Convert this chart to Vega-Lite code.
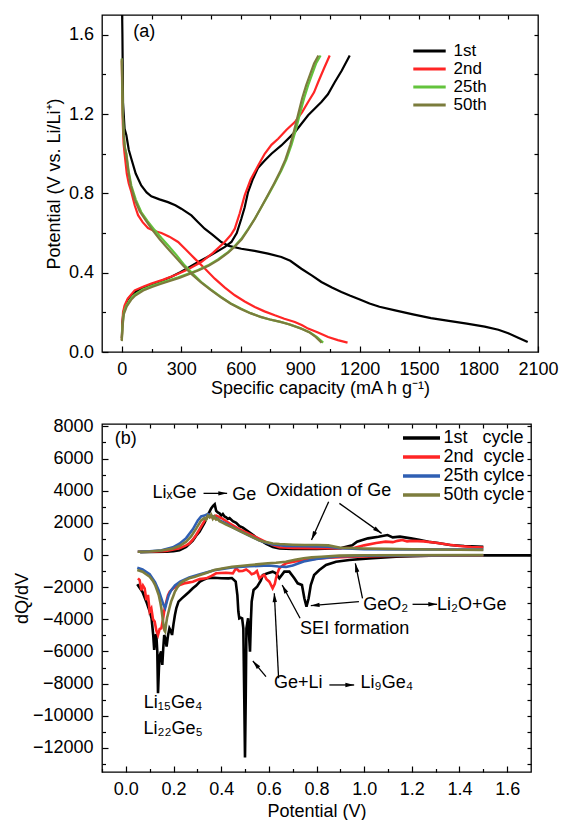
{
"$schema": "https://vega.github.io/schema/vega-lite/v6.json",
"padding": {"left": 12, "top": 13, "right": 0, "bottom": 0},
"spacing": 17,
"config": {
  "font": "Liberation Sans",
  "view": {"stroke": "#000000", "strokeWidth": 1.3},
  "axis": {"grid": false, "domain": false, "labelFont": "Liberation Sans", "labelFontSize": 18, "labelColor": "#000000", "titleFont": "Liberation Sans", "titleFontSize": 18, "titleFontWeight": "normal", "titleColor": "#000000", "tickColor": "#000000", "tickWidth": 1.2, "labelOverlap": false, "labelFlush": false, "labelBound": false},
  "legend": {"labelFont": "Liberation Sans", "labelFontSize": 18, "labelColor": "#000000", "padding": 0},
  "text": {"font": "Liberation Sans", "fontSize": 18, "color": "#000000"}
},
"resolve": {"scale": {"color": "independent", "x": "independent", "y": "independent"}, "legend": {"color": "independent"}},
"datasets": {
  "arrows": [
    {"id": "a1", "P": 0.326, "Q": 3835, "P2": 0.425, "Q2": 3835},
    {"id": "a2", "P": 0.851, "Q": 3317, "P2": 0.779, "Q2": 933},
    {"id": "a3", "P": 0.896, "Q": 3213, "P2": 1.073, "Q2": 1347},
    {"id": "a4", "P": 1.203, "Q": -3068, "P2": 1.306, "Q2": -3068},
    {"id": "a5", "P": 0.978, "Q": -2902, "P2": 0.776, "Q2": -3151},
    {"id": "a6", "P": 0.993, "Q": -2695, "P2": 0.963, "Q2": -518},
    {"id": "a7", "P": 0.731, "Q": -3939, "P2": 0.656, "Q2": -1866},
    {"id": "a8", "P": 0.854, "Q": -8085, "P2": 0.958, "Q2": -8085},
    {"id": "a9", "P": 0.588, "Q": -7567, "P2": 0.533, "Q2": -6592},
    {"id": "a10", "P": 0.641, "Q": -7670, "P2": 0.623, "Q2": -2384}
  ]
},
"vconcat": [
{
  "width": 436, "height": 337,
  "resolve": {"axis": {"x": "independent", "y": "independent"}},
  "layer": [
    {
      "data": {"values": [
        {"c":"1st","b":"d","cap":1,"V":1.75},{"c":"1st","b":"d","cap":3,"V":1.6},{"c":"1st","b":"d","cap":6,"V":1.26},{"c":"1st","b":"d","cap":14,"V":1.126},{"c":"1st","b":"d","cap":23,"V":1.093},{"c":"1st","b":"d","cap":35,"V":1.02},{"c":"1st","b":"d","cap":48,"V":0.975},{"c":"1st","b":"d","cap":70,"V":0.9},{"c":"1st","b":"d","cap":98,"V":0.84},{"c":"1st","b":"d","cap":125,"V":0.805},{"c":"1st","b":"d","cap":149,"V":0.785},{"c":"1st","b":"d","cap":190,"V":0.77},{"c":"1st","b":"d","cap":233,"V":0.756},{"c":"1st","b":"d","cap":270,"V":0.74},{"c":"1st","b":"d","cap":300,"V":0.723},{"c":"1st","b":"d","cap":351,"V":0.689},{"c":"1st","b":"d","cap":385,"V":0.655},{"c":"1st","b":"d","cap":418,"V":0.622},{"c":"1st","b":"d","cap":460,"V":0.59},{"c":"1st","b":"d","cap":502,"V":0.555},{"c":"1st","b":"d","cap":540,"V":0.535},{"c":"1st","b":"d","cap":603,"V":0.521},{"c":"1st","b":"d","cap":670,"V":0.51},{"c":"1st","b":"d","cap":738,"V":0.496},{"c":"1st","b":"d","cap":805,"V":0.479},{"c":"1st","b":"d","cap":850,"V":0.46},{"c":"1st","b":"d","cap":906,"V":0.42},{"c":"1st","b":"d","cap":960,"V":0.385},{"c":"1st","b":"d","cap":1007,"V":0.353},{"c":"1st","b":"d","cap":1060,"V":0.325},{"c":"1st","b":"d","cap":1108,"V":0.303},{"c":"1st","b":"d","cap":1150,"V":0.285},{"c":"1st","b":"d","cap":1201,"V":0.265},{"c":"1st","b":"d","cap":1250,"V":0.245},{"c":"1st","b":"d","cap":1300,"V":0.228},{"c":"1st","b":"d","cap":1379,"V":0.21},{"c":"1st","b":"d","cap":1469,"V":0.19},{"c":"1st","b":"d","cap":1560,"V":0.171},{"c":"1st","b":"d","cap":1650,"V":0.157},{"c":"1st","b":"d","cap":1741,"V":0.143},{"c":"1st","b":"d","cap":1831,"V":0.128},{"c":"1st","b":"d","cap":1900,"V":0.112},{"c":"1st","b":"d","cap":1950,"V":0.095},{"c":"1st","b":"d","cap":2000,"V":0.072},{"c":"1st","b":"d","cap":2048,"V":0.05},
        {"c":"1st","b":"c","cap":0,"V":0.07},{"c":"1st","b":"c","cap":3,"V":0.15},{"c":"1st","b":"c","cap":8,"V":0.2},{"c":"1st","b":"c","cap":15,"V":0.225},{"c":"1st","b":"c","cap":30,"V":0.265},{"c":"1st","b":"c","cap":50,"V":0.29},{"c":"1st","b":"c","cap":80,"V":0.31},{"c":"1st","b":"c","cap":114,"V":0.325},{"c":"1st","b":"c","cap":160,"V":0.345},{"c":"1st","b":"c","cap":205,"V":0.361},{"c":"1st","b":"c","cap":250,"V":0.38},{"c":"1st","b":"c","cap":295,"V":0.403},{"c":"1st","b":"c","cap":340,"V":0.428},{"c":"1st","b":"c","cap":385,"V":0.454},{"c":"1st","b":"c","cap":430,"V":0.478},{"c":"1st","b":"c","cap":476,"V":0.504},{"c":"1st","b":"c","cap":520,"V":0.53},{"c":"1st","b":"c","cap":553,"V":0.555},{"c":"1st","b":"c","cap":580,"V":0.6},{"c":"1st","b":"c","cap":603,"V":0.672},{"c":"1st","b":"c","cap":620,"V":0.73},{"c":"1st","b":"c","cap":637,"V":0.807},{"c":"1st","b":"c","cap":660,"V":0.87},{"c":"1st","b":"c","cap":688,"V":0.93},{"c":"1st","b":"c","cap":720,"V":0.965},{"c":"1st","b":"c","cap":755,"V":1.0},{"c":"1st","b":"c","cap":805,"V":1.042},{"c":"1st","b":"c","cap":873,"V":1.109},{"c":"1st","b":"c","cap":940,"V":1.194},{"c":"1st","b":"c","cap":1007,"V":1.261},{"c":"1st","b":"c","cap":1040,"V":1.3},{"c":"1st","b":"c","cap":1075,"V":1.362},{"c":"1st","b":"c","cap":1110,"V":1.42},{"c":"1st","b":"c","cap":1150,"V":1.496},
        {"c":"2nd","b":"d","cap":0,"V":1.47},{"c":"2nd","b":"d","cap":2,"V":1.3},{"c":"2nd","b":"d","cap":5,"V":1.15},{"c":"2nd","b":"d","cap":9,"V":1.05},{"c":"2nd","b":"d","cap":14,"V":1.0},{"c":"2nd","b":"d","cap":25,"V":0.9},{"c":"2nd","b":"d","cap":35,"V":0.85},{"c":"2nd","b":"d","cap":48,"V":0.807},{"c":"2nd","b":"d","cap":65,"V":0.74},{"c":"2nd","b":"d","cap":82,"V":0.69},{"c":"2nd","b":"d","cap":105,"V":0.655},{"c":"2nd","b":"d","cap":132,"V":0.625},{"c":"2nd","b":"d","cap":165,"V":0.61},{"c":"2nd","b":"d","cap":200,"V":0.6},{"c":"2nd","b":"d","cap":240,"V":0.582},{"c":"2nd","b":"d","cap":284,"V":0.555},{"c":"2nd","b":"d","cap":325,"V":0.515},{"c":"2nd","b":"d","cap":368,"V":0.471},{"c":"2nd","b":"d","cap":420,"V":0.42},{"c":"2nd","b":"d","cap":469,"V":0.37},{"c":"2nd","b":"d","cap":520,"V":0.325},{"c":"2nd","b":"d","cap":570,"V":0.286},{"c":"2nd","b":"d","cap":620,"V":0.255},{"c":"2nd","b":"d","cap":671,"V":0.227},{"c":"2nd","b":"d","cap":720,"V":0.205},{"c":"2nd","b":"d","cap":772,"V":0.185},{"c":"2nd","b":"d","cap":820,"V":0.168},{"c":"2nd","b":"d","cap":873,"V":0.151},{"c":"2nd","b":"d","cap":910,"V":0.135},{"c":"2nd","b":"d","cap":940,"V":0.118},{"c":"2nd","b":"d","cap":990,"V":0.098},{"c":"2nd","b":"d","cap":1041,"V":0.076},{"c":"2nd","b":"d","cap":1090,"V":0.06},{"c":"2nd","b":"d","cap":1139,"V":0.047},
        {"c":"2nd","b":"c","cap":0,"V":0.06},{"c":"2nd","b":"c","cap":2,"V":0.12},{"c":"2nd","b":"c","cap":6,"V":0.2},{"c":"2nd","b":"c","cap":14,"V":0.235},{"c":"2nd","b":"c","cap":30,"V":0.27},{"c":"2nd","b":"c","cap":65,"V":0.311},{"c":"2nd","b":"c","cap":110,"V":0.33},{"c":"2nd","b":"c","cap":149,"V":0.345},{"c":"2nd","b":"c","cap":210,"V":0.365},{"c":"2nd","b":"c","cap":267,"V":0.387},{"c":"2nd","b":"c","cap":330,"V":0.415},{"c":"2nd","b":"c","cap":401,"V":0.454},{"c":"2nd","b":"c","cap":460,"V":0.5},{"c":"2nd","b":"c","cap":519,"V":0.555},{"c":"2nd","b":"c","cap":550,"V":0.59},{"c":"2nd","b":"c","cap":570,"V":0.622},{"c":"2nd","b":"c","cap":595,"V":0.7},{"c":"2nd","b":"c","cap":620,"V":0.79},{"c":"2nd","b":"c","cap":650,"V":0.87},{"c":"2nd","b":"c","cap":688,"V":0.941},{"c":"2nd","b":"c","cap":721,"V":1.0},{"c":"2nd","b":"c","cap":755,"V":1.045},{"c":"2nd","b":"c","cap":789,"V":1.076},{"c":"2nd","b":"c","cap":830,"V":1.12},{"c":"2nd","b":"c","cap":873,"V":1.16},{"c":"2nd","b":"c","cap":910,"V":1.21},{"c":"2nd","b":"c","cap":940,"V":1.261},{"c":"2nd","b":"c","cap":970,"V":1.31},{"c":"2nd","b":"c","cap":991,"V":1.362},{"c":"2nd","b":"c","cap":1020,"V":1.43},{"c":"2nd","b":"c","cap":1049,"V":1.496},
        {"c":"25th","b":"d","cap":0,"V":1.48},{"c":"25th","b":"d","cap":2,"V":1.35},{"c":"25th","b":"d","cap":5,"V":1.2},{"c":"25th","b":"d","cap":10,"V":1.09},{"c":"25th","b":"d","cap":16,"V":1.03},{"c":"25th","b":"d","cap":23,"V":1.0},{"c":"25th","b":"d","cap":35,"V":0.91},{"c":"25th","b":"d","cap":48,"V":0.84},{"c":"25th","b":"d","cap":70,"V":0.77},{"c":"25th","b":"d","cap":98,"V":0.706},{"c":"25th","b":"d","cap":130,"V":0.66},{"c":"25th","b":"d","cap":166,"V":0.615},{"c":"25th","b":"d","cap":200,"V":0.575},{"c":"25th","b":"d","cap":233,"V":0.538},{"c":"25th","b":"d","cap":275,"V":0.49},{"c":"25th","b":"d","cap":317,"V":0.437},{"c":"25th","b":"d","cap":360,"V":0.393},{"c":"25th","b":"d","cap":401,"V":0.353},{"c":"25th","b":"d","cap":450,"V":0.315},{"c":"25th","b":"d","cap":502,"V":0.277},{"c":"25th","b":"d","cap":550,"V":0.245},{"c":"25th","b":"d","cap":603,"V":0.218},{"c":"25th","b":"d","cap":650,"V":0.196},{"c":"25th","b":"d","cap":704,"V":0.176},{"c":"25th","b":"d","cap":750,"V":0.163},{"c":"25th","b":"d","cap":805,"V":0.151},{"c":"25th","b":"d","cap":850,"V":0.138},{"c":"25th","b":"d","cap":906,"V":0.118},{"c":"25th","b":"d","cap":950,"V":0.098},{"c":"25th","b":"d","cap":985,"V":0.075},{"c":"25th","b":"d","cap":1016,"V":0.047},
        {"c":"25th","b":"c","cap":0,"V":0.06},{"c":"25th","b":"c","cap":3,"V":0.13},{"c":"25th","b":"c","cap":10,"V":0.2},{"c":"25th","b":"c","cap":23,"V":0.235},{"c":"25th","b":"c","cap":45,"V":0.268},{"c":"25th","b":"c","cap":65,"V":0.29},{"c":"25th","b":"c","cap":105,"V":0.315},{"c":"25th","b":"c","cap":149,"V":0.333},{"c":"25th","b":"c","cap":190,"V":0.347},{"c":"25th","b":"c","cap":233,"V":0.36},{"c":"25th","b":"c","cap":285,"V":0.377},{"c":"25th","b":"c","cap":334,"V":0.395},{"c":"25th","b":"c","cap":385,"V":0.414},{"c":"25th","b":"c","cap":435,"V":0.437},{"c":"25th","b":"c","cap":485,"V":0.467},{"c":"25th","b":"c","cap":536,"V":0.504},{"c":"25th","b":"c","cap":570,"V":0.535},{"c":"25th","b":"c","cap":603,"V":0.571},{"c":"25th","b":"c","cap":637,"V":0.62},{"c":"25th","b":"c","cap":671,"V":0.672},{"c":"25th","b":"c","cap":704,"V":0.73},{"c":"25th","b":"c","cap":738,"V":0.79},{"c":"25th","b":"c","cap":771,"V":0.85},{"c":"25th","b":"c","cap":805,"V":0.915},{"c":"25th","b":"c","cap":830,"V":0.97},{"c":"25th","b":"c","cap":856,"V":1.045},{"c":"25th","b":"c","cap":878,"V":1.12},{"c":"25th","b":"c","cap":898,"V":1.2},{"c":"25th","b":"c","cap":920,"V":1.28},{"c":"25th","b":"c","cap":940,"V":1.345},{"c":"25th","b":"c","cap":960,"V":1.4},{"c":"25th","b":"c","cap":980,"V":1.455},{"c":"25th","b":"c","cap":1003,"V":1.496},
        {"c":"50th","b":"d","cap":0,"V":1.48},{"c":"50th","b":"d","cap":2,"V":1.35},{"c":"50th","b":"d","cap":5,"V":1.2},{"c":"50th","b":"d","cap":10,"V":1.09},{"c":"50th","b":"d","cap":15,"V":1.03},{"c":"50th","b":"d","cap":22,"V":1.0},{"c":"50th","b":"d","cap":33,"V":0.91},{"c":"50th","b":"d","cap":45,"V":0.84},{"c":"50th","b":"d","cap":65,"V":0.77},{"c":"50th","b":"d","cap":90,"V":0.71},{"c":"50th","b":"d","cap":120,"V":0.665},{"c":"50th","b":"d","cap":155,"V":0.615},{"c":"50th","b":"d","cap":190,"V":0.57},{"c":"50th","b":"d","cap":225,"V":0.53},{"c":"50th","b":"d","cap":265,"V":0.485},{"c":"50th","b":"d","cap":310,"V":0.435},{"c":"50th","b":"d","cap":355,"V":0.39},{"c":"50th","b":"d","cap":398,"V":0.352},{"c":"50th","b":"d","cap":448,"V":0.314},{"c":"50th","b":"d","cap":500,"V":0.276},{"c":"50th","b":"d","cap":548,"V":0.245},{"c":"50th","b":"d","cap":600,"V":0.217},{"c":"50th","b":"d","cap":648,"V":0.196},{"c":"50th","b":"d","cap":700,"V":0.177},{"c":"50th","b":"d","cap":748,"V":0.164},{"c":"50th","b":"d","cap":800,"V":0.152},{"c":"50th","b":"d","cap":846,"V":0.139},{"c":"50th","b":"d","cap":900,"V":0.12},{"c":"50th","b":"d","cap":945,"V":0.1},{"c":"50th","b":"d","cap":978,"V":0.076},{"c":"50th","b":"d","cap":1008,"V":0.047},
        {"c":"50th","b":"c","cap":0,"V":0.055},{"c":"50th","b":"c","cap":3,"V":0.12},{"c":"50th","b":"c","cap":10,"V":0.19},{"c":"50th","b":"c","cap":25,"V":0.23},{"c":"50th","b":"c","cap":47,"V":0.263},{"c":"50th","b":"c","cap":68,"V":0.285},{"c":"50th","b":"c","cap":108,"V":0.31},{"c":"50th","b":"c","cap":152,"V":0.328},{"c":"50th","b":"c","cap":195,"V":0.343},{"c":"50th","b":"c","cap":238,"V":0.357},{"c":"50th","b":"c","cap":290,"V":0.374},{"c":"50th","b":"c","cap":338,"V":0.392},{"c":"50th","b":"c","cap":388,"V":0.412},{"c":"50th","b":"c","cap":438,"V":0.435},{"c":"50th","b":"c","cap":488,"V":0.465},{"c":"50th","b":"c","cap":538,"V":0.502},{"c":"50th","b":"c","cap":572,"V":0.533},{"c":"50th","b":"c","cap":605,"V":0.569},{"c":"50th","b":"c","cap":638,"V":0.618},{"c":"50th","b":"c","cap":670,"V":0.67},{"c":"50th","b":"c","cap":702,"V":0.728},{"c":"50th","b":"c","cap":735,"V":0.788},{"c":"50th","b":"c","cap":767,"V":0.848},{"c":"50th","b":"c","cap":800,"V":0.913},{"c":"50th","b":"c","cap":825,"V":0.97},{"c":"50th","b":"c","cap":850,"V":1.045},{"c":"50th","b":"c","cap":870,"V":1.12},{"c":"50th","b":"c","cap":890,"V":1.2},{"c":"50th","b":"c","cap":910,"V":1.28},{"c":"50th","b":"c","cap":930,"V":1.345},{"c":"50th","b":"c","cap":950,"V":1.4},{"c":"50th","b":"c","cap":970,"V":1.455},{"c":"50th","b":"c","cap":992,"V":1.496}
      ]},
      "mark": {"type": "line", "strokeWidth": 2.2, "clip": true},
      "encoding": {
        "x": {"field": "cap", "type": "quantitative", "scale": {"domain": [-100, 2100], "nice": false, "zero": false},
          "axis": {"orient": "bottom", "values": [0,300,600,900,1200,1500,1800,2100], "format": "d", "tickSize": -6, "labelPadding": 14, "title": "Specific capacity (mA h g⁻¹)", "titlePadding": 1.5}},
        "y": {"field": "V", "type": "quantitative", "scale": {"domain": [0, 1.7], "nice": false, "zero": false},
          "axis": {"orient": "left", "values": [0,0.4,0.8,1.2,1.6], "format": ".1f", "tickSize": -6, "labelPadding": 14.5, "title": "Potential (V vs. Li/Li⁺)", "titlePadding": 5}},
        "color": {"field": "c", "type": "nominal", "scale": {"domain": ["1st","2nd","25th","50th"], "range": ["#000000","#ff2525","#63c33c","#7b7c3c"]},
          "legend": {"orient": "none", "legendX": 319, "legendY": 27.5, "title": null, "symbolType": "M-8.1,0H8.1", "symbolSize": 16, "symbolStrokeWidth": 3, "labelOffset": 15.5, "labelFontSize": 17, "rowPadding": 0}},
        "detail": {"field": "b"}
      }
    },
    {
      "data": {"values": [{"cap": 0, "V": 0}]},
      "mark": {"type": "point", "opacity": 0},
      "encoding": {
        "x": {"field": "cap", "type": "quantitative", "scale": {"domain": [-100, 2100], "nice": false, "zero": false},
          "axis": {"orient": "bottom", "values": [150,450,750,1050,1350,1650,1950], "tickSize": -3.5, "labels": false, "title": null}},
        "y": {"field": "V", "type": "quantitative", "scale": {"domain": [0, 1.7], "nice": false, "zero": false},
          "axis": {"orient": "left", "values": [0.2,0.6,1.0,1.4], "tickSize": -3.5, "labels": false, "title": null}}
      }
    },
    {
      "data": {"values": [{"cap": 0, "V": 0}]},
      "mark": {"type": "point", "opacity": 0},
      "encoding": {
        "x": {"field": "cap", "type": "quantitative", "scale": {"domain": [-100, 2100], "nice": false, "zero": false},
          "axis": {"orient": "top", "values": [0,150,300,450,600,750,900,1050,1200,1350,1500,1650,1800,1950], "tickSize": -4, "labels": false, "title": null}},
        "y": {"field": "V", "type": "quantitative", "scale": {"domain": [0, 1.7], "nice": false, "zero": false},
          "axis": {"orient": "right", "values": [0.2,0.4,0.6,0.8,1.0,1.2,1.4,1.6], "tickSize": -4, "labels": false, "title": null}}
      }
    },
    {
      "data": {"values": [{"cap": 113, "V": 1.589, "t": "(a)"}]},
      "mark": {"type": "text", "align": "center", "baseline": "alphabetic"},
      "encoding": {
        "x": {"field": "cap", "type": "quantitative", "scale": {"domain": [-100, 2100], "nice": false, "zero": false}, "axis": null},
        "y": {"field": "V", "type": "quantitative", "scale": {"domain": [0, 1.7], "nice": false, "zero": false}, "axis": null},
        "text": {"field": "t"}
      }
    }
  ]
},
{
  "width": 429, "height": 348,
  "resolve": {"axis": {"x": "independent", "y": "independent"}},
  "layer": [
    {
      "data": {"values": [
        {"c":"1st","b":"c","P":0.06,"Q":180},{"c":"1st","b":"c","P":0.1,"Q":190},{"c":"1st","b":"c","P":0.169,"Q":200},{"c":"1st","b":"c","P":0.2,"Q":240},{"c":"1st","b":"c","P":0.225,"Q":300},{"c":"1st","b":"c","P":0.253,"Q":500},{"c":"1st","b":"c","P":0.281,"Q":900},{"c":"1st","b":"c","P":0.295,"Q":1200},{"c":"1st","b":"c","P":0.309,"Q":1450},{"c":"1st","b":"c","P":0.33,"Q":2000},{"c":"1st","b":"c","P":0.345,"Q":2500},{"c":"1st","b":"c","P":0.358,"Q":2900},{"c":"1st","b":"c","P":0.366,"Q":3050},{"c":"1st","b":"c","P":0.373,"Q":3150},{"c":"1st","b":"c","P":0.379,"Q":2750},{"c":"1st","b":"c","P":0.386,"Q":2650},{"c":"1st","b":"c","P":0.393,"Q":2600},{"c":"1st","b":"c","P":0.4,"Q":2450},{"c":"1st","b":"c","P":0.407,"Q":2550},{"c":"1st","b":"c","P":0.414,"Q":2400},{"c":"1st","b":"c","P":0.421,"Q":2350},{"c":"1st","b":"c","P":0.428,"Q":2250},{"c":"1st","b":"c","P":0.435,"Q":2300},{"c":"1st","b":"c","P":0.449,"Q":2100},{"c":"1st","b":"c","P":0.463,"Q":2000},{"c":"1st","b":"c","P":0.477,"Q":1800},{"c":"1st","b":"c","P":0.491,"Q":1700},{"c":"1st","b":"c","P":0.505,"Q":1550},{"c":"1st","b":"c","P":0.533,"Q":1250},{"c":"1st","b":"c","P":0.561,"Q":950},{"c":"1st","b":"c","P":0.589,"Q":700},{"c":"1st","b":"c","P":0.617,"Q":500},{"c":"1st","b":"c","P":0.645,"Q":400},{"c":"1st","b":"c","P":0.7,"Q":380},{"c":"1st","b":"c","P":0.8,"Q":380},{"c":"1st","b":"c","P":0.9,"Q":420},{"c":"1st","b":"c","P":0.95,"Q":600},{"c":"1st","b":"c","P":0.97,"Q":829},{"c":"1st","b":"c","P":1.016,"Q":1036},{"c":"1st","b":"c","P":1.06,"Q":1140},{"c":"1st","b":"c","P":1.098,"Q":1244},{"c":"1st","b":"c","P":1.12,"Q":1100},{"c":"1st","b":"c","P":1.15,"Q":1140},{"c":"1st","b":"c","P":1.196,"Q":1036},{"c":"1st","b":"c","P":1.23,"Q":950},{"c":"1st","b":"c","P":1.27,"Q":829},{"c":"1st","b":"c","P":1.31,"Q":750},{"c":"1st","b":"c","P":1.36,"Q":622},{"c":"1st","b":"c","P":1.42,"Q":560},{"c":"1st","b":"c","P":1.5,"Q":518},
        {"c":"1st","b":"d","P":0.048,"Q":-1824},{"c":"1st","b":"d","P":0.07,"Q":-2300},{"c":"1st","b":"d","P":0.086,"Q":-2902},{"c":"1st","b":"d","P":0.1,"Q":-3500},{"c":"1st","b":"d","P":0.108,"Q":-3939},{"c":"1st","b":"d","P":0.115,"Q":-5000},{"c":"1st","b":"d","P":0.119,"Q":-5908},{"c":"1st","b":"d","P":0.124,"Q":-5000},{"c":"1st","b":"d","P":0.128,"Q":-4975},{"c":"1st","b":"d","P":0.132,"Q":-6000},{"c":"1st","b":"d","P":0.135,"Q":-8603},{"c":"1st","b":"d","P":0.139,"Q":-7000},{"c":"1st","b":"d","P":0.143,"Q":-6219},{"c":"1st","b":"d","P":0.148,"Q":-6000},{"c":"1st","b":"d","P":0.153,"Q":-6841},{"c":"1st","b":"d","P":0.157,"Q":-5800},{"c":"1st","b":"d","P":0.161,"Q":-4975},{"c":"1st","b":"d","P":0.166,"Q":-5200},{"c":"1st","b":"d","P":0.171,"Q":-5701},{"c":"1st","b":"d","P":0.177,"Q":-5000},{"c":"1st","b":"d","P":0.183,"Q":-4561},{"c":"1st","b":"d","P":0.188,"Q":-4700},{"c":"1st","b":"d","P":0.194,"Q":-4975},{"c":"1st","b":"d","P":0.2,"Q":-4300},{"c":"1st","b":"d","P":0.206,"Q":-3731},{"c":"1st","b":"d","P":0.212,"Q":-3300},{"c":"1st","b":"d","P":0.221,"Q":-2902},{"c":"1st","b":"d","P":0.235,"Q":-2700},{"c":"1st","b":"d","P":0.251,"Q":-2488},{"c":"1st","b":"d","P":0.265,"Q":-2300},{"c":"1st","b":"d","P":0.281,"Q":-2073},{"c":"1st","b":"d","P":0.295,"Q":-1900},{"c":"1st","b":"d","P":0.311,"Q":-1658},{"c":"1st","b":"d","P":0.325,"Q":-1550},{"c":"1st","b":"d","P":0.341,"Q":-1451},{"c":"1st","b":"d","P":0.37,"Q":-1420},{"c":"1st","b":"d","P":0.4,"Q":-1450},{"c":"1st","b":"d","P":0.431,"Q":-1451},{"c":"1st","b":"d","P":0.445,"Q":-1430},{"c":"1st","b":"d","P":0.461,"Q":-1658},{"c":"1st","b":"d","P":0.468,"Q":-2488},{"c":"1st","b":"d","P":0.472,"Q":-3500},{"c":"1st","b":"d","P":0.476,"Q":-3939},{"c":"1st","b":"d","P":0.482,"Q":-3900},{"c":"1st","b":"d","P":0.488,"Q":-3939},{"c":"1st","b":"d","P":0.493,"Q":-4561},{"c":"1st","b":"d","P":0.497,"Q":-9000},{"c":"1st","b":"d","P":0.5,"Q":-12600},{"c":"1st","b":"d","P":0.503,"Q":-9000},{"c":"1st","b":"d","P":0.506,"Q":-4561},{"c":"1st","b":"d","P":0.513,"Q":-3939},{"c":"1st","b":"d","P":0.517,"Q":-5000},{"c":"1st","b":"d","P":0.521,"Q":-6012},{"c":"1st","b":"d","P":0.525,"Q":-4000},{"c":"1st","b":"d","P":0.528,"Q":-2902},{"c":"1st","b":"d","P":0.536,"Q":-2177},{"c":"1st","b":"d","P":0.551,"Q":-1969},{"c":"1st","b":"d","P":0.566,"Q":-1600},{"c":"1st","b":"d","P":0.575,"Q":-1244},{"c":"1st","b":"d","P":0.595,"Q":-1140},{"c":"1st","b":"d","P":0.616,"Q":-1036},{"c":"1st","b":"d","P":0.63,"Q":-1140},{"c":"1st","b":"d","P":0.644,"Q":-1451},{"c":"1st","b":"d","P":0.665,"Q":-1036},{"c":"1st","b":"d","P":0.686,"Q":-1036},{"c":"1st","b":"d","P":0.707,"Q":-1451},{"c":"1st","b":"d","P":0.721,"Q":-1762},{"c":"1st","b":"d","P":0.739,"Q":-1865},{"c":"1st","b":"d","P":0.749,"Q":-2694},{"c":"1st","b":"d","P":0.758,"Q":-3212},{"c":"1st","b":"d","P":0.767,"Q":-2694},{"c":"1st","b":"d","P":0.776,"Q":-1865},{"c":"1st","b":"d","P":0.79,"Q":-1244},{"c":"1st","b":"d","P":0.812,"Q":-933},{"c":"1st","b":"d","P":0.84,"Q":-622},{"c":"1st","b":"d","P":0.882,"Q":-414},{"c":"1st","b":"d","P":0.938,"Q":-311},{"c":"1st","b":"d","P":1.02,"Q":-207},{"c":"1st","b":"d","P":1.134,"Q":-104},{"c":"1st","b":"d","P":1.273,"Q":-41},{"c":"1st","b":"d","P":1.413,"Q":-25},{"c":"1st","b":"d","P":1.7,"Q":-25},
        {"c":"2nd","b":"c","P":0.05,"Q":200},{"c":"2nd","b":"c","P":0.1,"Q":210},{"c":"2nd","b":"c","P":0.169,"Q":250},{"c":"2nd","b":"c","P":0.225,"Q":415},{"c":"2nd","b":"c","P":0.253,"Q":600},{"c":"2nd","b":"c","P":0.267,"Q":720},{"c":"2nd","b":"c","P":0.281,"Q":950},{"c":"2nd","b":"c","P":0.295,"Q":1244},{"c":"2nd","b":"c","P":0.309,"Q":1600},{"c":"2nd","b":"c","P":0.323,"Q":1950},{"c":"2nd","b":"c","P":0.337,"Q":2280},{"c":"2nd","b":"c","P":0.351,"Q":2490},{"c":"2nd","b":"c","P":0.358,"Q":2350},{"c":"2nd","b":"c","P":0.365,"Q":2400},{"c":"2nd","b":"c","P":0.372,"Q":2300},{"c":"2nd","b":"c","P":0.379,"Q":2450},{"c":"2nd","b":"c","P":0.393,"Q":2350},{"c":"2nd","b":"c","P":0.407,"Q":2250},{"c":"2nd","b":"c","P":0.421,"Q":2100},{"c":"2nd","b":"c","P":0.449,"Q":1850},{"c":"2nd","b":"c","P":0.477,"Q":1600},{"c":"2nd","b":"c","P":0.505,"Q":1400},{"c":"2nd","b":"c","P":0.533,"Q":1200},{"c":"2nd","b":"c","P":0.561,"Q":1000},{"c":"2nd","b":"c","P":0.589,"Q":800},{"c":"2nd","b":"c","P":0.617,"Q":620},{"c":"2nd","b":"c","P":0.645,"Q":480},{"c":"2nd","b":"c","P":0.7,"Q":440},{"c":"2nd","b":"c","P":0.8,"Q":420},{"c":"2nd","b":"c","P":0.9,"Q":420},{"c":"2nd","b":"c","P":0.96,"Q":450},{"c":"2nd","b":"c","P":1.0,"Q":600},{"c":"2nd","b":"c","P":1.05,"Q":750},{"c":"2nd","b":"c","P":1.09,"Q":830},{"c":"2nd","b":"c","P":1.12,"Q":800},{"c":"2nd","b":"c","P":1.14,"Q":880},{"c":"2nd","b":"c","P":1.16,"Q":930},{"c":"2nd","b":"c","P":1.18,"Q":850},{"c":"2nd","b":"c","P":1.2,"Q":880},{"c":"2nd","b":"c","P":1.25,"Q":850},{"c":"2nd","b":"c","P":1.3,"Q":760},{"c":"2nd","b":"c","P":1.35,"Q":650},{"c":"2nd","b":"c","P":1.4,"Q":560},{"c":"2nd","b":"c","P":1.45,"Q":500},{"c":"2nd","b":"c","P":1.5,"Q":460},
        {"c":"2nd","b":"d","P":0.051,"Q":-1451},{"c":"2nd","b":"d","P":0.058,"Q":-1555},{"c":"2nd","b":"d","P":0.065,"Q":-2200},{"c":"2nd","b":"d","P":0.072,"Q":-1900},{"c":"2nd","b":"d","P":0.079,"Q":-2073},{"c":"2nd","b":"d","P":0.086,"Q":-2800},{"c":"2nd","b":"d","P":0.093,"Q":-2487},{"c":"2nd","b":"d","P":0.1,"Q":-3500},{"c":"2nd","b":"d","P":0.107,"Q":-3316},{"c":"2nd","b":"d","P":0.114,"Q":-4000},{"c":"2nd","b":"d","P":0.121,"Q":-4145},{"c":"2nd","b":"d","P":0.128,"Q":-4700},{"c":"2nd","b":"d","P":0.135,"Q":-4974},{"c":"2nd","b":"d","P":0.142,"Q":-4600},{"c":"2nd","b":"d","P":0.149,"Q":-4560},{"c":"2nd","b":"d","P":0.156,"Q":-4000},{"c":"2nd","b":"d","P":0.163,"Q":-3316},{"c":"2nd","b":"d","P":0.17,"Q":-2900},{"c":"2nd","b":"d","P":0.177,"Q":-2500},{"c":"2nd","b":"d","P":0.184,"Q":-2280},{"c":"2nd","b":"d","P":0.2,"Q":-2050},{"c":"2nd","b":"d","P":0.226,"Q":-1865},{"c":"2nd","b":"d","P":0.25,"Q":-1750},{"c":"2nd","b":"d","P":0.281,"Q":-1658},{"c":"2nd","b":"d","P":0.31,"Q":-1500},{"c":"2nd","b":"d","P":0.337,"Q":-1451},{"c":"2nd","b":"d","P":0.36,"Q":-1300},{"c":"2nd","b":"d","P":0.379,"Q":-1140},{"c":"2nd","b":"d","P":0.42,"Q":-1100},{"c":"2nd","b":"d","P":0.449,"Q":-1140},{"c":"2nd","b":"d","P":0.462,"Q":-829},{"c":"2nd","b":"d","P":0.475,"Q":-1000},{"c":"2nd","b":"d","P":0.49,"Q":-995},{"c":"2nd","b":"d","P":0.505,"Q":-900},{"c":"2nd","b":"d","P":0.518,"Q":-1036},{"c":"2nd","b":"d","P":0.528,"Q":-1200},{"c":"2nd","b":"d","P":0.539,"Q":-1140},{"c":"2nd","b":"d","P":0.55,"Q":-1000},{"c":"2nd","b":"d","P":0.56,"Q":-1451},{"c":"2nd","b":"d","P":0.572,"Q":-1300},{"c":"2nd","b":"d","P":0.581,"Q":-1244},{"c":"2nd","b":"d","P":0.59,"Q":-1500},{"c":"2nd","b":"d","P":0.602,"Q":-1658},{"c":"2nd","b":"d","P":0.616,"Q":-2073},{"c":"2nd","b":"d","P":0.625,"Q":-1800},{"c":"2nd","b":"d","P":0.63,"Q":-1451},{"c":"2nd","b":"d","P":0.637,"Q":-1100},{"c":"2nd","b":"d","P":0.644,"Q":-829},{"c":"2nd","b":"d","P":0.658,"Q":-650},{"c":"2nd","b":"d","P":0.672,"Q":-518},{"c":"2nd","b":"d","P":0.71,"Q":-400},{"c":"2nd","b":"d","P":0.756,"Q":-311},{"c":"2nd","b":"d","P":0.8,"Q":-230},{"c":"2nd","b":"d","P":0.854,"Q":-166},{"c":"2nd","b":"d","P":0.95,"Q":-100},{"c":"2nd","b":"d","P":1.1,"Q":-60},{"c":"2nd","b":"d","P":1.3,"Q":-40},{"c":"2nd","b":"d","P":1.5,"Q":-30},
        {"c":"25th","b":"c","P":0.05,"Q":200},{"c":"25th","b":"c","P":0.1,"Q":230},{"c":"25th","b":"c","P":0.15,"Q":300},{"c":"25th","b":"c","P":0.197,"Q":480},{"c":"25th","b":"c","P":0.225,"Q":700},{"c":"25th","b":"c","P":0.253,"Q":1050},{"c":"25th","b":"c","P":0.281,"Q":1600},{"c":"25th","b":"c","P":0.302,"Q":2150},{"c":"25th","b":"c","P":0.316,"Q":2400},{"c":"25th","b":"c","P":0.33,"Q":2450},{"c":"25th","b":"c","P":0.344,"Q":2550},{"c":"25th","b":"c","P":0.358,"Q":2450},{"c":"25th","b":"c","P":0.379,"Q":2300},{"c":"25th","b":"c","P":0.4,"Q":2100},{"c":"25th","b":"c","P":0.421,"Q":1950},{"c":"25th","b":"c","P":0.449,"Q":1720},{"c":"25th","b":"c","P":0.477,"Q":1500},{"c":"25th","b":"c","P":0.505,"Q":1300},{"c":"25th","b":"c","P":0.533,"Q":1100},{"c":"25th","b":"c","P":0.561,"Q":900},{"c":"25th","b":"c","P":0.589,"Q":760},{"c":"25th","b":"c","P":0.617,"Q":650},{"c":"25th","b":"c","P":0.672,"Q":560},{"c":"25th","b":"c","P":0.75,"Q":540},{"c":"25th","b":"c","P":0.85,"Q":520},{"c":"25th","b":"c","P":0.9,"Q":420},{"c":"25th","b":"c","P":1.0,"Q":360},{"c":"25th","b":"c","P":1.2,"Q":350},{"c":"25th","b":"c","P":1.5,"Q":340},
        {"c":"25th","b":"d","P":0.048,"Q":-788},{"c":"25th","b":"d","P":0.07,"Q":-900},{"c":"25th","b":"d","P":0.1,"Q":-1200},{"c":"25th","b":"d","P":0.123,"Q":-1700},{"c":"25th","b":"d","P":0.138,"Q":-2200},{"c":"25th","b":"d","P":0.149,"Q":-2700},{"c":"25th","b":"d","P":0.158,"Q":-3100},{"c":"25th","b":"d","P":0.165,"Q":-3300},{"c":"25th","b":"d","P":0.172,"Q":-2900},{"c":"25th","b":"d","P":0.18,"Q":-2500},{"c":"25th","b":"d","P":0.19,"Q":-2200},{"c":"25th","b":"d","P":0.206,"Q":-1900},{"c":"25th","b":"d","P":0.228,"Q":-1650},{"c":"25th","b":"d","P":0.266,"Q":-1400},{"c":"25th","b":"d","P":0.311,"Q":-1200},{"c":"25th","b":"d","P":0.371,"Q":-950},{"c":"25th","b":"d","P":0.446,"Q":-780},{"c":"25th","b":"d","P":0.521,"Q":-700},{"c":"25th","b":"d","P":0.6,"Q":-650},{"c":"25th","b":"d","P":0.64,"Q":-720},{"c":"25th","b":"d","P":0.672,"Q":-740},{"c":"25th","b":"d","P":0.7,"Q":-650},{"c":"25th","b":"d","P":0.746,"Q":-400},{"c":"25th","b":"d","P":0.8,"Q":-250},{"c":"25th","b":"d","P":0.85,"Q":-150},{"c":"25th","b":"d","P":0.9,"Q":-80},{"c":"25th","b":"d","P":1.0,"Q":-40},{"c":"25th","b":"d","P":1.5,"Q":-20},
        {"c":"50th","b":"c","P":0.05,"Q":200},{"c":"50th","b":"c","P":0.1,"Q":220},{"c":"50th","b":"c","P":0.15,"Q":280},{"c":"50th","b":"c","P":0.197,"Q":400},{"c":"50th","b":"c","P":0.225,"Q":560},{"c":"50th","b":"c","P":0.253,"Q":830},{"c":"50th","b":"c","P":0.274,"Q":1160},{"c":"50th","b":"c","P":0.295,"Q":1640},{"c":"50th","b":"c","P":0.316,"Q":2150},{"c":"50th","b":"c","P":0.33,"Q":2300},{"c":"50th","b":"c","P":0.337,"Q":2200},{"c":"50th","b":"c","P":0.344,"Q":2450},{"c":"50th","b":"c","P":0.351,"Q":2350},{"c":"50th","b":"c","P":0.358,"Q":2500},{"c":"50th","b":"c","P":0.365,"Q":2250},{"c":"50th","b":"c","P":0.372,"Q":2400},{"c":"50th","b":"c","P":0.379,"Q":2200},{"c":"50th","b":"c","P":0.386,"Q":2250},{"c":"50th","b":"c","P":0.393,"Q":2100},{"c":"50th","b":"c","P":0.407,"Q":2000},{"c":"50th","b":"c","P":0.421,"Q":1900},{"c":"50th","b":"c","P":0.435,"Q":1800},{"c":"50th","b":"c","P":0.449,"Q":1700},{"c":"50th","b":"c","P":0.477,"Q":1500},{"c":"50th","b":"c","P":0.505,"Q":1300},{"c":"50th","b":"c","P":0.533,"Q":1100},{"c":"50th","b":"c","P":0.561,"Q":900},{"c":"50th","b":"c","P":0.589,"Q":800},{"c":"50th","b":"c","P":0.617,"Q":720},{"c":"50th","b":"c","P":0.645,"Q":680},{"c":"50th","b":"c","P":0.7,"Q":640},{"c":"50th","b":"c","P":0.75,"Q":620},{"c":"50th","b":"c","P":0.8,"Q":620},{"c":"50th","b":"c","P":0.85,"Q":600},{"c":"50th","b":"c","P":0.9,"Q":450},{"c":"50th","b":"c","P":1.0,"Q":400},{"c":"50th","b":"c","P":1.1,"Q":380},{"c":"50th","b":"c","P":1.2,"Q":360},{"c":"50th","b":"c","P":1.3,"Q":340},{"c":"50th","b":"c","P":1.4,"Q":330},{"c":"50th","b":"c","P":1.5,"Q":320},
        {"c":"50th","b":"d","P":0.048,"Q":-933},{"c":"50th","b":"d","P":0.07,"Q":-1036},{"c":"50th","b":"d","P":0.085,"Q":-1200},{"c":"50th","b":"d","P":0.1,"Q":-1347},{"c":"50th","b":"d","P":0.113,"Q":-1600},{"c":"50th","b":"d","P":0.123,"Q":-1866},{"c":"50th","b":"d","P":0.131,"Q":-2200},{"c":"50th","b":"d","P":0.138,"Q":-2488},{"c":"50th","b":"d","P":0.144,"Q":-2900},{"c":"50th","b":"d","P":0.149,"Q":-3317},{"c":"50th","b":"d","P":0.154,"Q":-3900},{"c":"50th","b":"d","P":0.158,"Q":-4353},{"c":"50th","b":"d","P":0.162,"Q":-4700},{"c":"50th","b":"d","P":0.165,"Q":-4768},{"c":"50th","b":"d","P":0.169,"Q":-4300},{"c":"50th","b":"d","P":0.173,"Q":-3900},{"c":"50th","b":"d","P":0.176,"Q":-3731},{"c":"50th","b":"d","P":0.183,"Q":-3300},{"c":"50th","b":"d","P":0.19,"Q":-2902},{"c":"50th","b":"d","P":0.198,"Q":-2600},{"c":"50th","b":"d","P":0.206,"Q":-2280},{"c":"50th","b":"d","P":0.217,"Q":-2000},{"c":"50th","b":"d","P":0.228,"Q":-1762},{"c":"50th","b":"d","P":0.245,"Q":-1600},{"c":"50th","b":"d","P":0.266,"Q":-1451},{"c":"50th","b":"d","P":0.29,"Q":-1350},{"c":"50th","b":"d","P":0.311,"Q":-1244},{"c":"50th","b":"d","P":0.34,"Q":-1100},{"c":"50th","b":"d","P":0.371,"Q":-933},{"c":"50th","b":"d","P":0.41,"Q":-820},{"c":"50th","b":"d","P":0.446,"Q":-726},{"c":"50th","b":"d","P":0.48,"Q":-680},{"c":"50th","b":"d","P":0.521,"Q":-622},{"c":"50th","b":"d","P":0.56,"Q":-570},{"c":"50th","b":"d","P":0.596,"Q":-518},{"c":"50th","b":"d","P":0.63,"Q":-480},{"c":"50th","b":"d","P":0.671,"Q":-415},{"c":"50th","b":"d","P":0.71,"Q":-300},{"c":"50th","b":"d","P":0.746,"Q":-207},{"c":"50th","b":"d","P":0.78,"Q":-150},{"c":"50th","b":"d","P":0.82,"Q":-104},{"c":"50th","b":"d","P":0.896,"Q":-41},{"c":"50th","b":"d","P":1.0,"Q":-20},{"c":"50th","b":"d","P":1.5,"Q":-10}
      ]},
      "mark": {"type": "line", "strokeWidth": 2.6, "clip": true},
      "encoding": {
        "x": {"field": "P", "type": "quantitative", "scale": {"domain": [-0.1, 1.7], "nice": false, "zero": false},
          "axis": {"orient": "bottom", "values": [0,0.2,0.4,0.6,0.8,1.0,1.2,1.4,1.6], "format": ".1f", "tickSize": -6, "labelPadding": 14.5, "title": "Potential (V)", "titlePadding": 3.5}},
        "y": {"field": "Q", "type": "quantitative", "scale": {"domain": [-13500, 8150], "nice": false, "zero": false},
          "axis": {"orient": "left", "values": [-12000,-10000,-8000,-6000,-4000,-2000,0,2000,4000,6000,8000], "format": "d", "tickSize": -6, "labelPadding": 15, "title": "dQ/dV", "titlePadding": 1}},
        "color": {"field": "c", "type": "nominal", "scale": {"domain": ["1st","2nd","25th","50th"], "range": ["#000000","#ff2525","#2f5fb3","#7d7d3d"]},
          "legend": {"orient": "none", "legendX": 310.5, "legendY": 5, "title": null, "symbolType": "M-9.25,0H9.25", "symbolSize": 16, "symbolStrokeWidth": 3.5, "labelOffset": 13, "rowPadding": 1,
            "labelExpr": "datum.label == '1st' ? '1st\u00a0\u00a0\u00a0cycle' : datum.label == '2nd' ? '2nd\u00a0\u00a0cycle' : datum.label == '25th' ? '25th cylce' : '50th cycle'"}},
        "detail": {"field": "b"}
      }
    },
    {
      "data": {"values": [{"P": 0, "Q": 0}]},
      "mark": {"type": "point", "opacity": 0},
      "encoding": {
        "x": {"field": "P", "type": "quantitative", "scale": {"domain": [-0.1, 1.7], "nice": false, "zero": false},
          "axis": {"orient": "bottom", "values": [-0.1,0.1,0.3,0.5,0.7,0.9,1.1,1.3,1.5], "tickSize": -3.5, "labels": false, "title": null}},
        "y": {"field": "Q", "type": "quantitative", "scale": {"domain": [-13500, 8150], "nice": false, "zero": false},
          "axis": {"orient": "left", "values": [-13000,-11000,-9000,-7000,-5000,-3000,-1000,1000,3000,5000,7000], "tickSize": -3.5, "labels": false, "title": null}}
      }
    },
    {
      "data": {"values": [{"P": 0, "Q": 0}]},
      "mark": {"type": "point", "opacity": 0},
      "encoding": {
        "x": {"field": "P", "type": "quantitative", "scale": {"domain": [-0.1, 1.7], "nice": false, "zero": false},
          "axis": {"orient": "top", "values": [0,0.1,0.2,0.3,0.4,0.5,0.6,0.7,0.8,0.9,1.0,1.1,1.2,1.3,1.4,1.5,1.6], "tickSize": -4, "labels": false, "title": null}},
        "y": {"field": "Q", "type": "quantitative", "scale": {"domain": [-13500, 8150], "nice": false, "zero": false},
          "axis": {"orient": "right", "values": [-13000,-12000,-11000,-10000,-9000,-8000,-7000,-6000,-5000,-4000,-3000,-2000,-1000,0,1000,2000,3000,4000,5000,6000,7000,8000], "tickSize": -4, "labels": false, "title": null}}
      }
    },
    {
      "data": {"name": "arrows"},
      "mark": {"type": "rule", "color": "#000000", "strokeWidth": 1.3},
      "encoding": {
        "x": {"field": "P", "type": "quantitative", "scale": {"domain": [-0.1, 1.7], "nice": false, "zero": false}, "axis": null},
        "y": {"field": "Q", "type": "quantitative", "scale": {"domain": [-13500, 8150], "nice": false, "zero": false}, "axis": null},
        "x2": {"field": "P2"},
        "y2": {"field": "Q2"}
      }
    },
    {"data": {"name": "arrows"}, "transform": [{"filter": "datum.id == 'a1' || datum.id == 'a4' || datum.id == 'a8'"}],
      "mark": {"type": "point", "shape": "M0,0L-0.55,2.2L0.55,2.2Z", "angle": 90, "size": 64, "filled": true, "color": "#000000", "opacity": 1, "strokeWidth": 0},
      "encoding": {"x": {"field": "P2", "type": "quantitative", "axis": null}, "y": {"field": "Q2", "type": "quantitative", "axis": null}}},
    {"data": {"name": "arrows"}, "transform": [{"filter": "datum.id == 'a2'"}],
      "mark": {"type": "point", "shape": "M0,0L-0.55,2.2L0.55,2.2Z", "angle": 204, "size": 64, "filled": true, "color": "#000000", "opacity": 1, "strokeWidth": 0},
      "encoding": {"x": {"field": "P2", "type": "quantitative", "axis": null}, "y": {"field": "Q2", "type": "quantitative", "axis": null}}},
    {"data": {"name": "arrows"}, "transform": [{"filter": "datum.id == 'a3'"}],
      "mark": {"type": "point", "shape": "M0,0L-0.55,2.2L0.55,2.2Z", "angle": 125, "size": 64, "filled": true, "color": "#000000", "opacity": 1, "strokeWidth": 0},
      "encoding": {"x": {"field": "P2", "type": "quantitative", "axis": null}, "y": {"field": "Q2", "type": "quantitative", "axis": null}}},
    {"data": {"name": "arrows"}, "transform": [{"filter": "datum.id == 'a5'"}],
      "mark": {"type": "point", "shape": "M0,0L-0.55,2.2L0.55,2.2Z", "angle": 265, "size": 64, "filled": true, "color": "#000000", "opacity": 1, "strokeWidth": 0},
      "encoding": {"x": {"field": "P2", "type": "quantitative", "axis": null}, "y": {"field": "Q2", "type": "quantitative", "axis": null}}},
    {"data": {"name": "arrows"}, "transform": [{"filter": "datum.id == 'a6'"}],
      "mark": {"type": "point", "shape": "M0,0L-0.55,2.2L0.55,2.2Z", "angle": 348, "size": 64, "filled": true, "color": "#000000", "opacity": 1, "strokeWidth": 0},
      "encoding": {"x": {"field": "P2", "type": "quantitative", "axis": null}, "y": {"field": "Q2", "type": "quantitative", "axis": null}}},
    {"data": {"name": "arrows"}, "transform": [{"filter": "datum.id == 'a7'"}],
      "mark": {"type": "point", "shape": "M0,0L-0.55,2.2L0.55,2.2Z", "angle": 332, "size": 64, "filled": true, "color": "#000000", "opacity": 1, "strokeWidth": 0},
      "encoding": {"x": {"field": "P2", "type": "quantitative", "axis": null}, "y": {"field": "Q2", "type": "quantitative", "axis": null}}},
    {"data": {"name": "arrows"}, "transform": [{"filter": "datum.id == 'a9'"}],
      "mark": {"type": "point", "shape": "M0,0L-0.55,2.2L0.55,2.2Z", "angle": 320, "size": 64, "filled": true, "color": "#000000", "opacity": 1, "strokeWidth": 0},
      "encoding": {"x": {"field": "P2", "type": "quantitative", "axis": null}, "y": {"field": "Q2", "type": "quantitative", "axis": null}}},
    {"data": {"name": "arrows"}, "transform": [{"filter": "datum.id == 'a10'"}],
      "mark": {"type": "point", "shape": "M0,0L-0.55,2.2L0.55,2.2Z", "angle": 357, "size": 64, "filled": true, "color": "#000000", "opacity": 1, "strokeWidth": 0},
      "encoding": {"x": {"field": "P2", "type": "quantitative", "axis": null}, "y": {"field": "Q2", "type": "quantitative", "axis": null}}},
    {
      "data": {"values": [
        {"P": 0.0, "Q": 6882, "t": "(b)"},
        {"P": 0.204, "Q": 3566, "t": "LiₓGe"},
        {"P": 0.497, "Q": 3420, "t": "Ge"},
        {"P": 0.851, "Q": 3669, "t": "Oxidation of Ge"},
        {"P": 1.091, "Q": -3441, "t": "GeO₂"},
        {"P": 1.451, "Q": -3441, "t": "Li₂O+Ge"},
        {"P": 0.96, "Q": -4934, "t": "SEI formation"},
        {"P": 0.723, "Q": -8292, "t": "Ge+Li"},
        {"P": 1.095, "Q": -8292, "t": "Li₉Ge₄"},
        {"P": 0.198, "Q": -9536, "t": "Li₁₅Ge₄"},
        {"P": 0.198, "Q": -11132, "t": "Li₂₂Ge₅"}
      ]},
      "mark": {"type": "text", "align": "center", "baseline": "alphabetic"},
      "encoding": {
        "x": {"field": "P", "type": "quantitative", "axis": null},
        "y": {"field": "Q", "type": "quantitative", "axis": null},
        "text": {"field": "t"}
      }
    }
  ]
}
]
}
